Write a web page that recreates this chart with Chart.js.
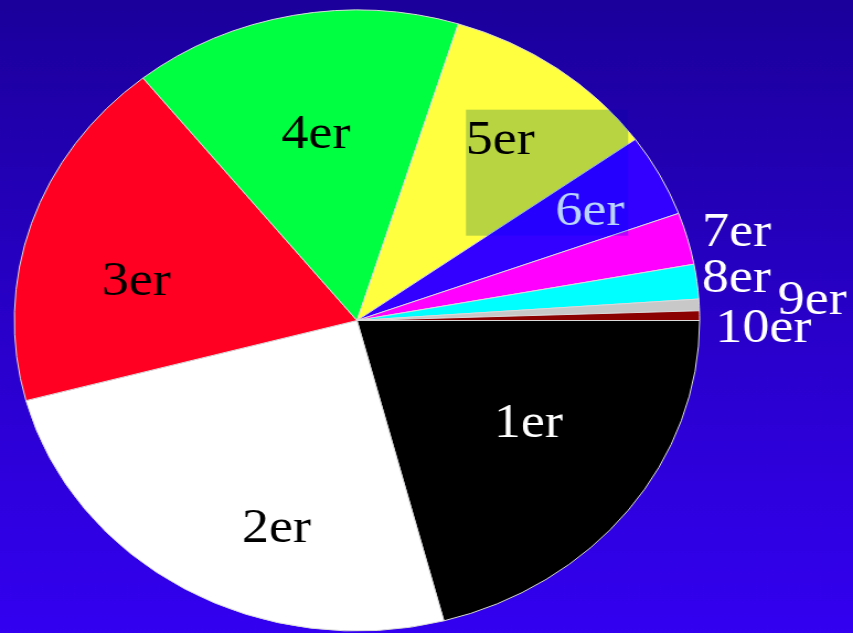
<!DOCTYPE html>
<html><head><meta charset="utf-8">
<script src="https://cdn.jsdelivr.net/npm/chart.js@4"></script>
<style>
html,body{margin:0;padding:0;width:853px;height:633px;overflow:hidden;background:linear-gradient(to bottom,#1b009b 0%,#2800c8 50%,#3300f0 100%);}
#wrap{position:absolute;left:0;top:0;width:773px;height:633px;transform:scaleX(1.1035);transform-origin:0 0;}
canvas{display:block;}
</style></head><body>
<div id="wrap"><canvas id="c" width="773" height="633"></canvas></div>
<script>
// ---- data ----
const categories = ['1er','2er','3er','4er','5er','6er','7er','8er','9er','10er'];
const shares = [20.9, 24.9, 18.4, 15.5, 10.3, 4.3, 2.7, 1.8, 0.6, 0.5];

// ---- styles ----
const sliceColors = ['#000000','#ffffff','#ff0022','#00ff40','#ffff40','#3300ff','#ff00ff','#00ffff','#c8c8c8','#8b0000'];
const labelColors = ['#ffffff','#000000','#000000','#000000','#000000','#ffffff','#ffffff','#ffffff','#ffffff','#ffffff'];
const labelLayout = {
  radius: [0.595,0.701,0.658,0.621,0.722,0.769,1.146,1.117,1.331,1.186],
  angleShift: [-4.8,-10.6,-6.3,-0.4,-0.4,0,0.5,-0.3,-0.3,1.7],
  fontSize: 49
};
const highlightBox = {index: 4, left: -31, right: 116, top: -28, bottom: 98, color: '#b8d4ff'};

const bgPlugin = {
  id: 'bg',
  beforeDraw(chart) {
    const ctx = chart.ctx;
    const g = ctx.createLinearGradient(0, 0, 0, chart.height);
    g.addColorStop(0, '#1b009b');
    g.addColorStop(0.5, '#2800c8');
    g.addColorStop(1, '#3300f0');
    ctx.save();
    ctx.fillStyle = g;
    ctx.fillRect(0, 0, chart.width, chart.height);
    ctx.restore();
  }
};

const labelPlugin = {
  id: 'labels',
  afterDatasetsDraw(chart) {
    const ctx = chart.ctx;
    const meta = chart.getDatasetMeta(0);
    const fs = labelLayout.fontSize;
    const pos = [];
    ctx.save();
    ctx.font = fs + 'px "Liberation Serif", "Times New Roman", serif';
    ctx.textAlign = 'center';
    ctx.textBaseline = 'alphabetic';
    meta.data.forEach((arc, i) => {
      const p = arc.getProps(['x','y','startAngle','endAngle','outerRadius'], true);
      const a = (p.startAngle + p.endAngle) / 2 + labelLayout.angleShift[i] * Math.PI / 180;
      const r = p.outerRadius * labelLayout.radius[i];
      const lx = p.x + Math.cos(a) * r, ly = p.y + Math.sin(a) * r;
      pos.push([lx, ly]);
      ctx.fillStyle = labelColors[i];
      ctx.fillText(categories[i], lx, ly + 0.34 * fs);
    });
    // translucent highlight box around the 5er label (multiply)
    const [bx, by] = pos[highlightBox.index];
    ctx.globalCompositeOperation = 'multiply';
    ctx.fillStyle = highlightBox.color;
    ctx.fillRect(bx + highlightBox.left, by + highlightBox.top,
                 highlightBox.right - highlightBox.left, highlightBox.bottom - highlightBox.top);
    ctx.restore();
  }
};

new Chart(document.getElementById('c'), {
  type: 'pie',
  data: {
    labels: categories,
    datasets: [{
      data: shares,
      backgroundColor: sliceColors,
      borderColor: '#dcdcdc',
      borderWidth: 1,
      hoverOffset: 0,
      offset: 0
    }]
  },
  options: {
    responsive: false,
    animation: false,
    events: [],
    rotation: 90,
    layout: {padding: {left: 0, right: 126, top: 9.5, bottom: 1.5}},
    plugins: {legend: {display: false}, tooltip: {enabled: false}}
  },
  plugins: [bgPlugin, labelPlugin]
});
</script>
</body></html>
